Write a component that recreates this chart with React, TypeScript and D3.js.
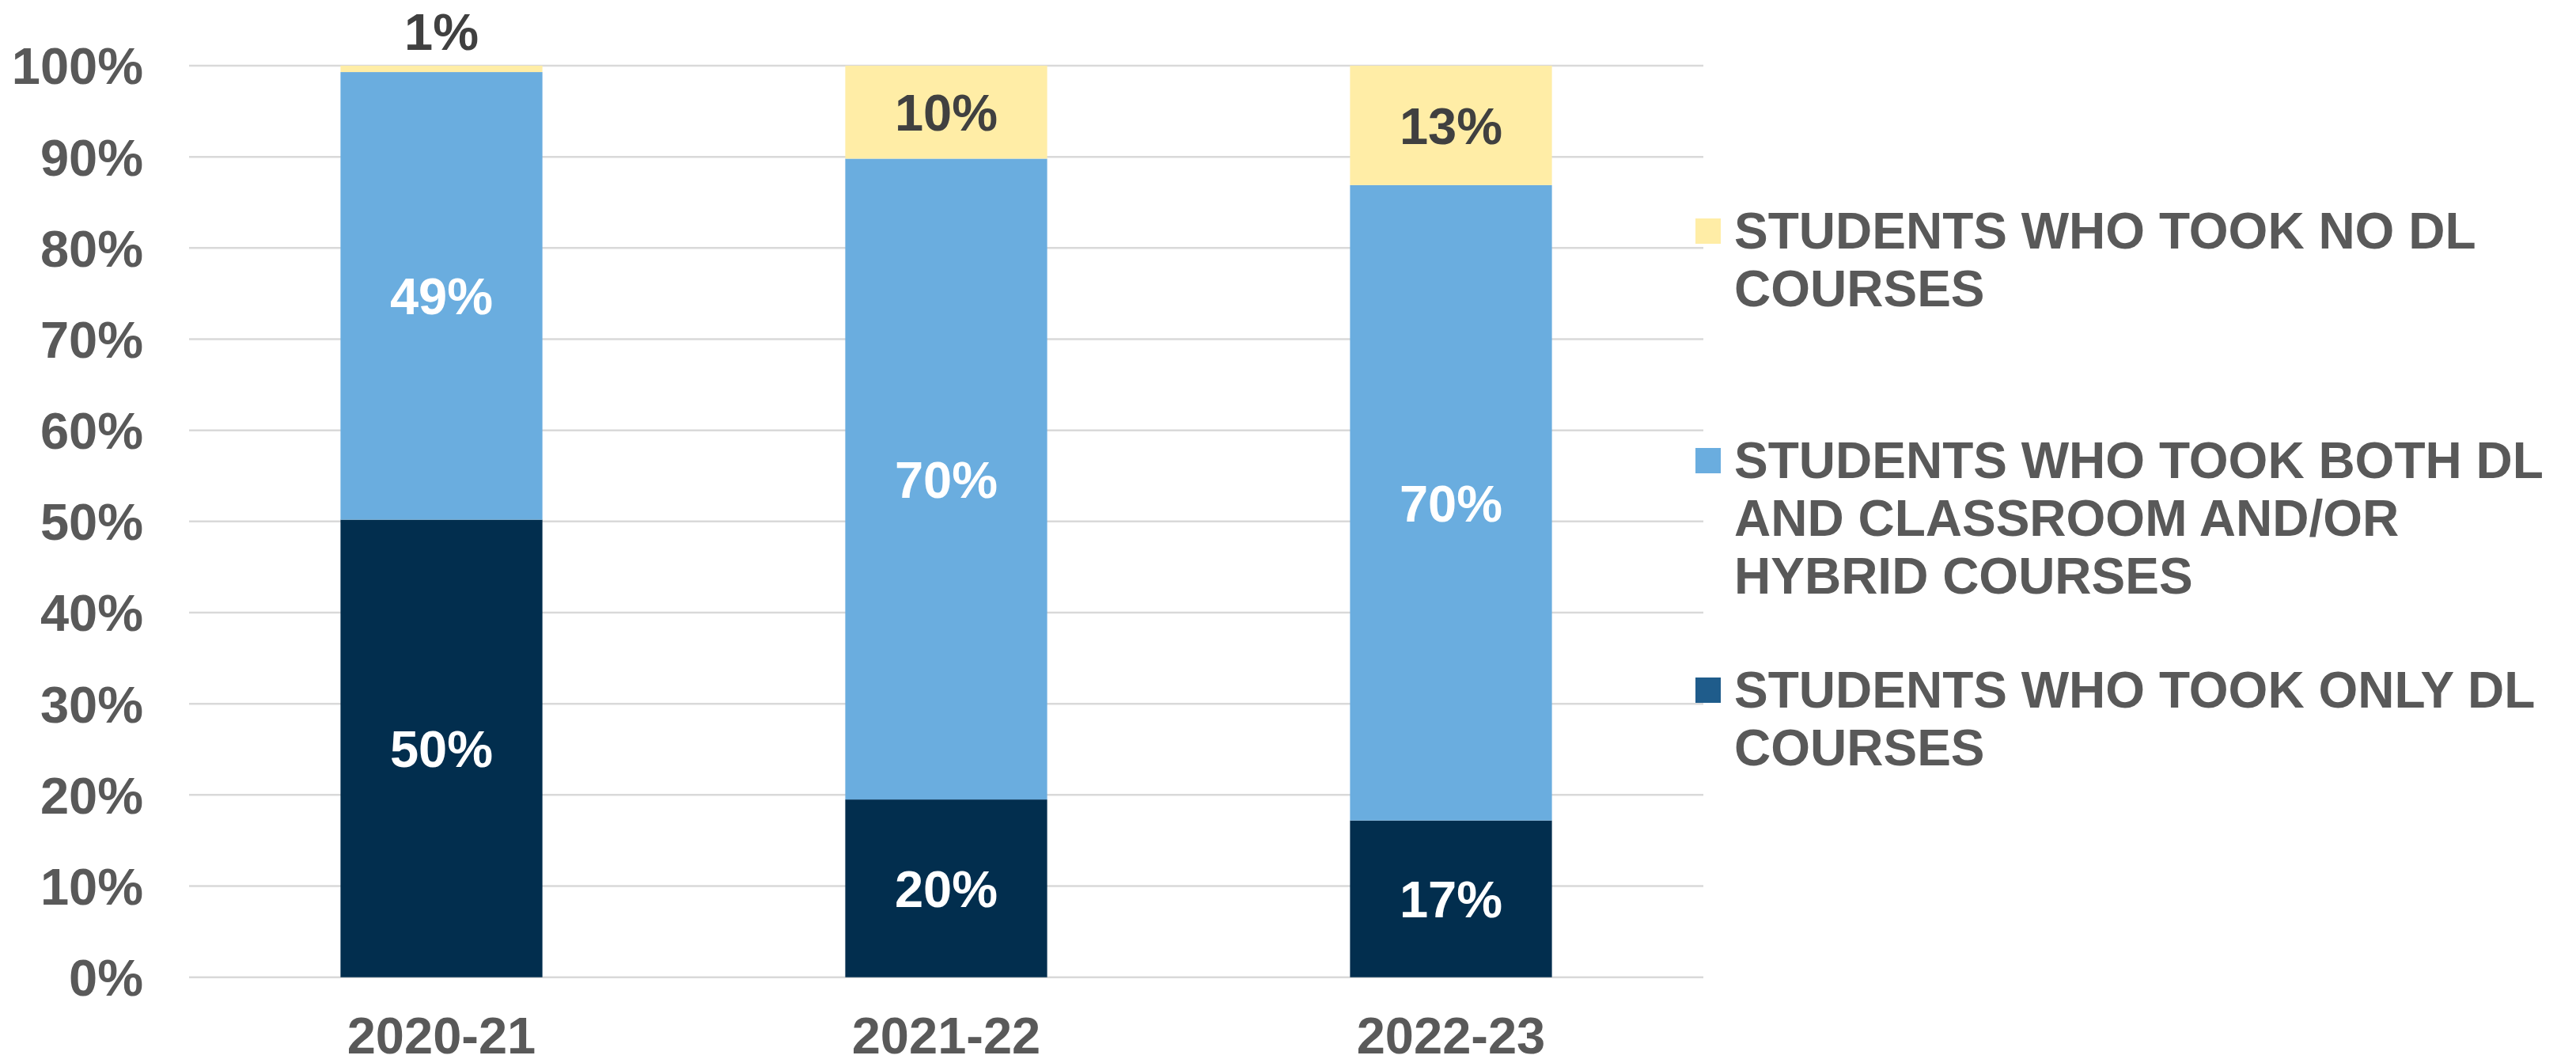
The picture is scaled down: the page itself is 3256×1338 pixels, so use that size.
import React from "react";
import * as d3 from "d3";

const categories = ["2020-21", "2021-22", "2022-23"];
const onlyDL = [50.2, 19.5, 17.2];
const bothDL = [49.1, 70.3, 69.7];
const noDL = [0.7, 10.2, 13.1];
const onlyLabels = ["50%", "20%", "17%"];
const bothLabels = ["49%", "70%", "70%"];
const noLabels = ["1%", "10%", "13%"];
const yTicks = [0, 10, 20, 30, 40, 50, 60, 70, 80, 90, 100];
const legendItems = [
  { key: "no", lines: ["STUDENTS WHO TOOK NO DL", "COURSES"] },
  { key: "both", lines: ["STUDENTS WHO TOOK BOTH DL", "AND CLASSROOM AND/OR", "HYBRID COURSES"] },
  { key: "only", lines: ["STUDENTS WHO TOOK ONLY DL", "COURSES"] },
];

const W = 3256;
const H = 1338;
const FONT = "'Liberation Sans', Arial, Helvetica, sans-serif";
const colors: Record<string, string> = { only: "#022E4E", both: "#6AADDF", no: "#FFEDA6" };
const legendColors: Record<string, string> = { only: "#1F5C8B", both: "#6AADDF", no: "#FFEDA6" };
const labelColors: Record<string, string> = { only: "#FFFFFF", both: "#FFFFFF", no: "#404040" };

export default function App() {
  const rows = categories.map((c, i) => ({ cat: c, only: onlyDL[i], both: bothDL[i], no: noDL[i], i }));
  const labels: Record<string, string[]> = { only: onlyLabels, both: bothLabels, no: noLabels };
  const keys = ["only", "both", "no"];
  const series = d3.stack<any>().keys(keys)(rows);

  const x = d3.scaleBand<string>().domain(categories).range([239, 2153]).paddingInner(0.6).paddingOuter(0.3);
  const y = d3.scaleLinear().domain([0, 100]).range([1234.7, 83]);

  const legendX = 2143;
  const legendY0 = 276;
  const legendStep = 290;
  const sq = 32;
  const lineH = 73;

  return (
    <svg width={W} height={H} style={{ position: "absolute", left: 0, top: 0, background: "#fff" }} fontFamily={FONT}>
      <rect x={0} y={0} width={W} height={H} fill="#fff" />
      {yTicks.map((t) => (
        <g key={t}>
          <line x1={239} x2={2153} y1={y(t)} y2={y(t)} stroke="#D9D9D9" strokeWidth={2.5} />
          <text x={181} y={y(t)} dy="0.36em" textAnchor="end" fontSize={65} fontWeight="bold" fill="#595959">
            {t}%
          </text>
        </g>
      ))}
      {series.map((s) => (
        <g key={s.key}>
          {s.map((d: any, i: number) => (
            <rect
              key={i}
              x={x(categories[i])}
              width={x.bandwidth()}
              y={y(d[1])}
              height={y(d[0]) - y(d[1])}
              fill={colors[s.key]}
            />
          ))}
        </g>
      ))}
      {series.map((s) => (
        <g key={"l" + s.key}>
          {s.map((d: any, i: number) => {
            const small = d[1] - d[0] < 3;
            const cx = (x(categories[i]) as number) + x.bandwidth() / 2;
            const cy = small ? y(d[1]) - 20 : (y(d[0]) + y(d[1])) / 2;
            return (
              <text
                key={i}
                x={cx}
                y={cy}
                dy={small ? "0" : "0.36em"}
                textAnchor="middle"
                fontSize={65}
                fontWeight="bold"
                fill={labelColors[s.key]}
              >
                {labels[s.key][i]}
              </text>
            );
          })}
        </g>
      ))}
      {categories.map((c) => (
        <text
          key={c}
          x={(x(c) as number) + x.bandwidth() / 2}
          y={1331}
          textAnchor="middle"
          fontSize={65}
          fontWeight="bold"
          fill="#595959"
        >
          {c}
        </text>
      ))}
      {legendItems.map((it, k) => {
        const top = legendY0 + k * legendStep;
        return (
          <g key={it.key}>
            <rect x={legendX} y={top} width={sq} height={sq} fill={legendColors[it.key]} />
            {it.lines.map((ln, j) => (
              <text
                key={j}
                x={2192}
                y={top + 38 + j * lineH}
                fontSize={64}
                fontWeight="bold"
                fill="#595959"
              >
                {ln}
              </text>
            ))}
          </g>
        );
      })}
    </svg>
  );
}
